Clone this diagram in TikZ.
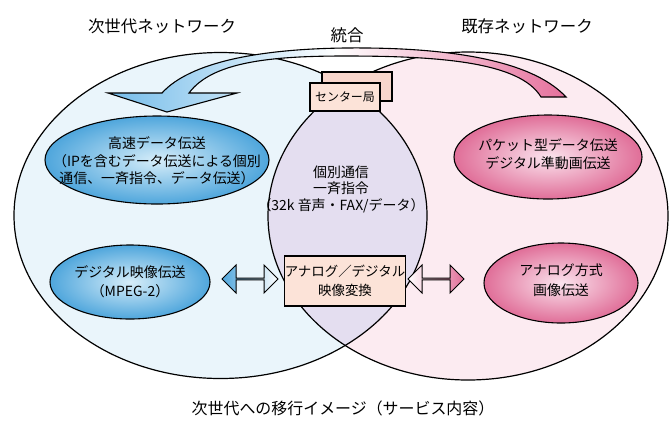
\documentclass[tikz,border=0pt]{standalone}
\usepackage{fontspec}
\setmainfont{Noto Sans CJK JP}
\usetikzlibrary{shapes.geometric,shapes.arrows}
\definecolor{bgblue}{HTML}{EAF5FB}
\definecolor{bgpink}{HTML}{FCEBF1}
\definecolor{lenscol}{HTML}{E4DEF0}
\definecolor{blueout}{HTML}{4FA6DC}
\definecolor{bluein}{HTML}{D6EDF9}
\definecolor{pinkout}{HTML}{E06E98}
\definecolor{pinkin}{HTML}{FBE4EE}
\definecolor{peach}{HTML}{FCE3D8}
\definecolor{peachdark}{HTML}{F8D6CC}
\definecolor{arrowblue}{HTML}{74BCEA}
\definecolor{arrowpink}{HTML}{E5709C}
\begin{document}
\begin{tikzpicture}[x=1bp,y=-1bp,
  outline/.style={line width=1.2bp},
  blueshade/.style={inner color=bluein, outer color=blueout, draw, line width=1.1bp},
  pinkshade/.style={inner color=pinkin, outer color=pinkout, draw, line width=1.1bp},
  txt/.style={align=center, font=\fontsize{14}{17.5}\selectfont, inner sep=0pt},
  title/.style={font=\fontsize{16.5}{18}\selectfont, inner sep=0pt},
  dbl/.style={double arrow, draw, line width=1bp, minimum height=56bp, minimum width=28bp,
    double arrow head extend=7bp, inner sep=0pt}
]
\useasboundingbox (0,0) rectangle (672,421);
\fill[white] (0,0) rectangle (672,421);
% big ellipses
\fill[bgblue] (220.5,215.5) ellipse [x radius=206.5, y radius=163];
\fill[bgpink] (468,216) ellipse [x radius=200, y radius=164];
\begin{scope}
  \clip (220.5,215.5) ellipse [x radius=206.5, y radius=163];
  \fill[lenscol] (468,216) ellipse [x radius=200, y radius=164];
\end{scope}
\draw[outline] (220.5,215.5) ellipse [x radius=206.5, y radius=163];
\draw[outline] (468,216) ellipse [x radius=200, y radius=164];
% big curved arrow
\path[left color=arrowblue, right color=arrowpink, middle color=white, draw=black, line width=1.1bp]
  (541,97) .. controls (520,62) and (440,56) .. (345,56)
  .. controls (270,56) and (212,62) .. (189,93)
  -- (237,93) -- (167,112) -- (108,93) -- (162,93)
  .. controls (190,62) and (260,49) .. (345,48)
  .. controls (440,47) and (530,58) .. (566,97) -- cycle;
% titles
\node[title] (t1) at (162,26) {次世代ネットワーク};
\node[title] (t2) at (527,26) {既存ネットワーク};
\node[title] (t3) at (347,35) {統合};
% center station
\draw[fill=peachdark, line width=1.1bp] (322,72) rectangle (392,101);
\node[draw, fill=peach, line width=1.1bp, minimum width=70bp, minimum height=28bp, inner sep=0pt,
  font=\fontsize{12}{13}\selectfont] (ctr) at (345,97) {センター局};
% inner ellipses
\path[blueshade] (157,160) ellipse [x radius=112, y radius=44];
\node[txt] (e1) at (157,161) {高速データ伝送\\（IPを含むデータ伝送による個別\\通信、一斉指令、データ伝送）};
\path[blueshade] (130,282) ellipse [x radius=80, y radius=37];
\node[txt, font=\fontsize{14}{19}\selectfont] (e2) at (130,282) {デジタル映像伝送\\（MPEG-2）};
\path[pinkshade] (548,157) ellipse [x radius=94, y radius=42];
\node[txt] (e3) at (548,154) {パケット型データ伝送\\デジタル準動画伝送};
\path[pinkshade] (561,283) ellipse [x radius=77, y radius=40];
\node[txt, font=\fontsize{14}{20}\selectfont] (e4) at (561,280) {アナログ方式\\画像伝送};
% center text
\node[txt, font=\fontsize{14}{16.5}\selectfont] (c1) at (341,189) {個別通信\\一斉指令\\（32k 音声・FAX/データ）};
% conversion box
\node[draw, fill=peach, line width=1.1bp, minimum width=120bp, minimum height=50bp, inner sep=0pt,
  align=center, font=\fontsize{13.5}{19}\selectfont] (conv) at (345,281) {アナログ／デジタル\\映像変換};
% double arrows
\node[dbl, left color=blueout, right color=white] (da1) at (250,279) {};
\node[dbl, left color=white, right color=pinkout] (da2) at (436,279) {};
% caption
\node[font=\fontsize{16}{18}\selectfont, inner sep=0pt] (cap) at (343,408) {次世代への移行イメージ（サービス内容）};
\end{tikzpicture}
\end{document}
